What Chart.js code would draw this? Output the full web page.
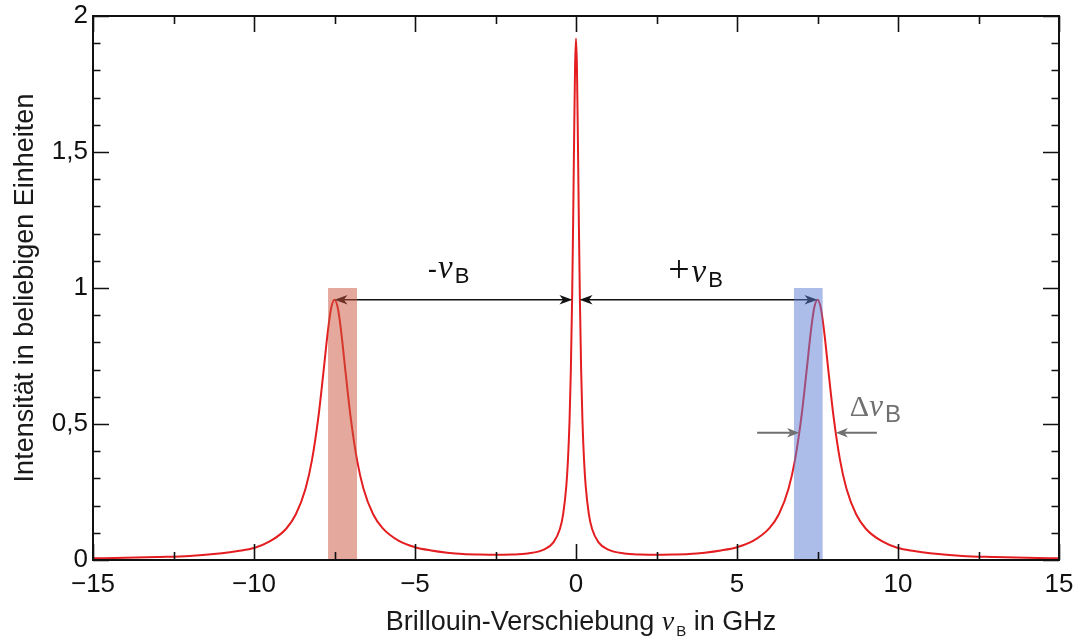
<!DOCTYPE html>
<html lang="de">
<head>
<meta charset="utf-8">
<title>Brillouin-Spektrum</title>
<script src="https://cdn.jsdelivr.net/npm/chart.js@4.4.1/dist/chart.umd.min.js"></script>
<style>
  html, body { margin: 0; padding: 0; background: #fff; }
  #wrap { width: 1085px; height: 641px; }
</style>
</head>
<body>
<div id="wrap"><canvas id="spektrum" width="1085" height="641"></canvas></div>
<script>
// Frequenzverschiebung in GHz
var shiftGHz = [
  -15, -14, -13, -12, -11, -10.5, -10, -9.5, -9, -8.7, -8.4, -8.2, -8, -7.85, -7.7, -7.6,
  -7.5, -7.4, -7.3, -7.15, -7, -6.8, -6.6, -6.3, -6, -5.5, -5, -4.5, -4, -3.5, -3, -2.5,
  -2, -1.5, -1, -0.7, -0.5, -0.4, -0.3, -0.25, -0.2, -0.16, -0.12, -0.09, -0.06, -0.03,
  0,
  0.03, 0.06, 0.09, 0.12, 0.16, 0.2, 0.25, 0.3, 0.4, 0.5, 0.7, 1, 1.5, 2,
  2.5, 3, 3.5, 4, 4.5, 5, 5.5, 6, 6.3, 6.6, 6.8, 7, 7.15, 7.3, 7.4, 7.5,
  7.6, 7.7, 7.85, 8, 8.2, 8.4, 8.7, 9, 9.5, 10, 10.5, 11, 12, 13, 14, 15
];

// Intensität (beliebige Einheiten)
var intensity = [
  0.006, 0.008, 0.011, 0.015, 0.025, 0.033, 0.044, 0.069, 0.115, 0.168, 0.262, 0.367, 0.526, 0.683, 0.847, 0.928,
  0.957, 0.928, 0.847, 0.683, 0.526, 0.367, 0.262, 0.168, 0.116, 0.070, 0.047, 0.035, 0.027, 0.022, 0.020, 0.019,
  0.020, 0.024, 0.038, 0.065, 0.114, 0.168, 0.273, 0.367, 0.515, 0.697, 0.964, 1.231, 1.536, 1.805,
  1.917,
  1.805, 1.536, 1.231, 0.964, 0.697, 0.515, 0.367, 0.273, 0.168, 0.114, 0.065, 0.038, 0.024, 0.020,
  0.019, 0.020, 0.022, 0.027, 0.035, 0.047, 0.070, 0.116, 0.168, 0.262, 0.367, 0.526, 0.683, 0.847, 0.928, 0.957,
  0.928, 0.847, 0.683, 0.526, 0.367, 0.262, 0.168, 0.115, 0.069, 0.044, 0.033, 0.025, 0.015, 0.011, 0.008, 0.006
];

var xTicks = [-15, -10, -5, 0, 5, 10, 15];
var yTicks = [0, 0.5, 1, 1.5, 2];

// Anti-Stokes- und Stokes-Bereich in GHz, Höhe in Intensitätseinheiten
var antiStokesBand = [-7.70, -6.80];
var stokesBand = [6.77, 7.66];
var bandTop = 1;

// Pfeile: Lage der Seitenmaxima, halbe Breite des Rayleigh-Peaks, Halbwertsbreite
var peakShift = 7.5;
var peakLevel = 0.957;
var centerHalfWidth = 0.11;
var fwhmLevel = 0.468;
var fwhmEdges = [6.93, 8.07];

var SANS = '"Liberation Sans", Arial, sans-serif';
var SERIF = '"Liberation Serif", "Times New Roman", serif';

function fmt(v) {
  return String(v).replace('.', ',').replace('-', '\u2212');
}

// Text aus mehreren Stücken mit eigener Schrift (für ν mit Index B)
function drawParts(ctx, parts, x, y, align) {
  var total = 0;
  parts.forEach(function (p) { ctx.font = p.font; p.w = ctx.measureText(p.text).width; total += p.w + (p.gap || 0); });
  var cx = align === 'center' ? x - total / 2 : x;
  ctx.textAlign = 'left';
  ctx.textBaseline = 'alphabetic';
  parts.forEach(function (p) {
    ctx.font = p.font;
    ctx.fillText(p.text, cx, y + (p.dy || 0));
    cx += p.w + (p.gap || 0);
  });
}

function arrowHead(ctx, tx, ty, dir, len, half) {
  ctx.beginPath();
  ctx.moveTo(tx, ty);
  ctx.lineTo(tx - dir * len, ty - half);
  ctx.lineTo(tx - dir * len * 0.72, ty);
  ctx.lineTo(tx - dir * len, ty + half);
  ctx.closePath();
  ctx.fill();
}

function arrow(ctx, x0, x1, y, heads, len, half) {
  // heads: 'both' oder 'end' (Spitze bei x1)
  var d = x1 > x0 ? 1 : -1;
  ctx.beginPath();
  ctx.moveTo(heads === 'both' ? x0 + d * len * 0.7 : x0, y);
  ctx.lineTo(x1 - d * len * 0.7, y);
  ctx.stroke();
  arrowHead(ctx, x1, y, d, len, half);
  if (heads === 'both') arrowHead(ctx, x0, y, -d, len, half);
}

var annotations = {
  id: 'annotations',
  afterDatasetsDraw: function (chart) {
    var ctx = chart.ctx, x = chart.scales.x, y = chart.scales.y;
    var py = y.getPixelForValue(peakLevel);
    ctx.save();

    // Abstand der Seitenmaxima vom Rayleigh-Peak
    ctx.strokeStyle = '#111';
    ctx.fillStyle = '#111';
    ctx.lineWidth = 1.6;
    arrow(ctx, x.getPixelForValue(-peakShift), x.getPixelForValue(-centerHalfWidth), py, 'both', 13, 4.8);
    arrow(ctx, x.getPixelForValue(centerHalfWidth), x.getPixelForValue(peakShift), py, 'both', 13, 4.8);

    // halbtransparente Bereiche
    var yTop = y.getPixelForValue(bandTop), yBot = y.getPixelForValue(0);
    ctx.fillStyle = 'rgba(201, 81, 57, 0.5)';
    ctx.fillRect(x.getPixelForValue(antiStokesBand[0]), yTop,
      x.getPixelForValue(antiStokesBand[1]) - x.getPixelForValue(antiStokesBand[0]), yBot - yTop);
    ctx.fillStyle = 'rgba(91, 123, 211, 0.5)';
    ctx.fillRect(x.getPixelForValue(stokesBand[0]), yTop,
      x.getPixelForValue(stokesBand[1]) - x.getPixelForValue(stokesBand[0]), yBot - yTop);

    // Halbwertsbreite
    var fy = y.getPixelForValue(fwhmLevel);
    ctx.strokeStyle = '#707070';
    ctx.fillStyle = '#707070';
    ctx.lineWidth = 2;
    var l = x.getPixelForValue(fwhmEdges[0]), r = x.getPixelForValue(fwhmEdges[1]);
    arrow(ctx, l - 42, l, fy, 'end', 12, 4.8);
    arrow(ctx, r + 41, r, fy, 'end', 12, 4.8);
    drawParts(ctx, [
      { text: '\u0394', font: '30px ' + SERIF },
      { text: '\u03bd', font: 'italic 31px ' + SERIF, gap: 2 },
      { text: 'B', font: '24px ' + SANS, dy: 6 }
    ], r + 14, y.getPixelForValue(0.53), 'left');

    // Beschriftung der Verschiebung
    ctx.fillStyle = '#111';
    var lx = (x.getPixelForValue(-peakShift) + x.getPixelForValue(-centerHalfWidth)) / 2 - 5;
    var rx = (x.getPixelForValue(centerHalfWidth) + x.getPixelForValue(peakShift)) / 2 - 3;
    drawParts(ctx, [
      { text: '-', font: '28px ' + SANS, gap: 1 },
      { text: '\u03bd', font: 'italic 33px ' + SERIF, gap: 2 },
      { text: 'B', font: '22px ' + SANS, dy: 5 }
    ], lx, py - 22, 'center');
    drawParts(ctx, [
      { text: '+', font: '38px ' + SERIF, gap: 2 },
      { text: '\u03bd', font: 'italic 33px ' + SERIF, gap: 2 },
      { text: 'B', font: '22px ' + SANS, dy: 5 }
    ], rx, py - 18, 'center');
    ctx.restore();
  },
  afterDraw: function (chart) {
    var ctx = chart.ctx, a = chart.chartArea, x = chart.scales.x, y = chart.scales.y;
    ctx.save();
    ctx.strokeStyle = '#111';

    // Ticks nach innen, auf allen vier Seiten
    ctx.lineWidth = 1.6;
    ctx.beginPath();
    for (var v = -15; v <= 15; v += 2.5) {
      var px = Math.round(x.getPixelForValue(v)) + 0.5;
      var len = v % 5 === 0 ? 16 : 8;
      ctx.moveTo(px, a.bottom); ctx.lineTo(px, a.bottom - len);
      ctx.moveTo(px, a.top); ctx.lineTo(px, a.top + len);
    }
    for (var k = 0; k <= 20; k++) {
      var py = Math.round(y.getPixelForValue(k / 10)) + 0.5;
      var ylen = k % 5 === 0 ? 16 : 7.5;
      ctx.moveTo(a.left, py); ctx.lineTo(a.left + ylen, py);
      ctx.moveTo(a.right, py); ctx.lineTo(a.right - ylen, py);
    }
    ctx.stroke();

    ctx.lineWidth = 2;
    ctx.strokeRect(a.left, a.top, a.right - a.left, a.bottom - a.top);

    // Achsentitel
    ctx.fillStyle = '#1a1a1a';
    drawParts(ctx, [
      { text: 'Brillouin-Verschiebung ', font: '27px ' + SANS },
      { text: '\u03bd', font: 'italic 28px ' + SERIF, gap: 2 },
      { text: 'B', font: '15px ' + SANS, dy: 6 },
      { text: ' in GHz', font: '27px ' + SANS }
    ], (a.left + a.right) / 2 + 5, 630, 'center');

    ctx.translate(33, (a.top + a.bottom) / 2);
    ctx.rotate(-Math.PI / 2);
    ctx.font = '27px ' + SANS;
    ctx.textAlign = 'center';
    ctx.textBaseline = 'alphabetic';
    ctx.fillText('Intensität in beliebigen Einheiten', 0, 0);
    ctx.restore();
  }
};

var points = shiftGHz.map(function (v, i) { return { x: v, y: intensity[i] }; });

new Chart(document.getElementById('spektrum'), {
  type: 'line',
  data: {
    datasets: [{
      label: 'Intensität',
      data: points,
      borderColor: '#e41e20',
      borderWidth: 2,
      pointRadius: 0,
      fill: false,
      cubicInterpolationMode: 'monotone'
    }]
  },
  options: {
    responsive: false,
    animation: false,
    devicePixelRatio: 1,
    layout: { padding: { top: 16, right: 26, left: 0, bottom: 0 } },
    plugins: { legend: { display: false }, tooltip: { enabled: false } },
    scales: {
      x: {
        type: 'linear',
        min: -15,
        max: 15,
        afterBuildTicks: function (s) { s.ticks = xTicks.map(function (v) { return { value: v }; }); },
        afterFit: function (s) { s.height = 81; s.paddingLeft = 0; s.paddingRight = 0; },
        grid: { display: false, drawTicks: false },
        border: { display: false },
        ticks: {
          padding: 9,
          maxRotation: 0,
          color: '#111',
          font: { family: SANS, size: 26 },
          callback: function (v) { return fmt(v); }
        }
      },
      y: {
        min: 0,
        max: 2,
        afterBuildTicks: function (s) { s.ticks = yTicks.map(function (v) { return { value: v }; }); },
        afterFit: function (s) { s.width = 93; s.paddingTop = 0; s.paddingBottom = 0; },
        grid: { display: false, drawTicks: false },
        border: { display: false },
        ticks: {
          padding: 5,
          color: '#111',
          font: { family: SANS, size: 26 },
          callback: function (v) { return fmt(v); }
        }
      }
    }
  },
  plugins: [annotations]
});
</script>
</body>
</html>
